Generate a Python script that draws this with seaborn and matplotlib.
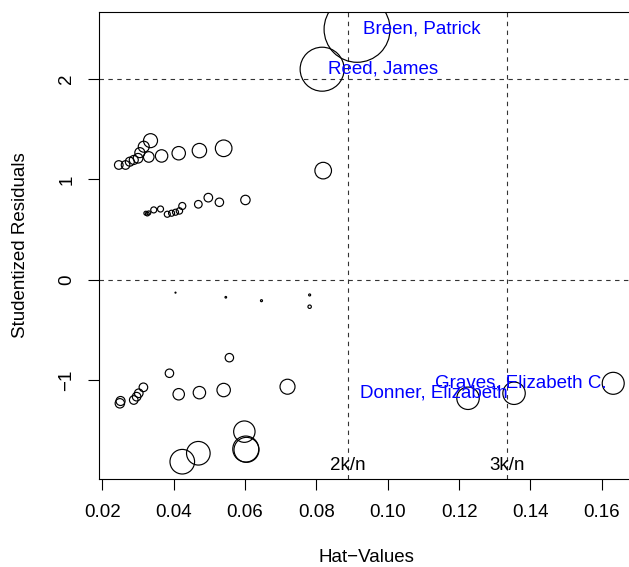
import matplotlib
matplotlib.use("Agg")
import matplotlib.pyplot as plt
import matplotlib.transforms as mtransforms
import seaborn as sns
import pandas as pd

# ---- data ----
hat = [0.0246, 0.0265, 0.0277, 0.0288, 0.0300, 0.0305, 0.0316, 0.0335, 0.0330, 0.0366,
       0.0414, 0.0472, 0.0540, 0.0819,
       0.0322, 0.0326, 0.0330, 0.0344, 0.0363, 0.0382, 0.0394, 0.0405, 0.0416, 0.0424,
       0.0469, 0.0497, 0.0528, 0.0601,
       0.0405, 0.0546, 0.0646, 0.0781, 0.0781,
       0.0249, 0.0251, 0.0288, 0.0296, 0.0302, 0.0315, 0.0388, 0.0414, 0.0472, 0.0540,
       0.0556, 0.0719, 0.0598, 0.0602, 0.0604, 0.0469, 0.0424,
       0.1225, 0.1354, 0.1632,
       0.0914, 0.0816]
rstudent = [1.144, 1.144, 1.177, 1.194, 1.211, 1.267, 1.326, 1.386, 1.224, 1.234,
            1.261, 1.287, 1.310, 1.088,
            0.664, 0.657, 0.667, 0.697, 0.706, 0.654, 0.664, 0.674, 0.687, 0.736,
            0.753, 0.819, 0.773, 0.796,
            -0.126, -0.172, -0.206, -0.149, -0.266,
            -1.227, -1.204, -1.194, -1.161, -1.127, -1.068, -0.928, -1.137, -1.121, -1.095,
            -0.773, -1.062, -1.509, -1.682, -1.690, -1.724, -1.808,
            -1.177, -1.127, -1.028,
            2.494, 2.097]
cooksd = [0.0051, 0.0051, 0.0056, 0.0056, 0.0064, 0.0069, 0.0083, 0.0135, 0.0077, 0.0106,
          0.0124, 0.0143, 0.0190, 0.0190,
          0.0011, 0.0011, 0.0011, 0.0025, 0.0025, 0.0025, 0.0025, 0.0025, 0.0028, 0.0034,
          0.0040, 0.0051, 0.0049, 0.0061,
          0.00007, 0.00018, 0.00028, 0.00028, 0.0008,
          0.0061, 0.0056, 0.0051, 0.0051, 0.0051, 0.0051, 0.0049, 0.0090, 0.0106, 0.0124,
          0.0049, 0.0155, 0.0315, 0.0466, 0.0430, 0.0384, 0.0417,
          0.0346, 0.0346, 0.0333,
          0.300, 0.1333]

label_names = ["Breen, Patrick", "Reed, James", "Donner, Elizabeth", "Graves, Elizabeth C."]
label_idx = [53, 54, 51, 52]
label_side = ["right", "right", "left", "left"]

hbar = 0.04445           # k/n
cut_labels = ["2k/n", "3k/n"]
cut_mult = [2, 3]
ref_y = [-2, 0, 2]
xticks = [0.02, 0.04, 0.06, 0.08, 0.10, 0.12, 0.14, 0.16]
xticklabels = ["0.02", "0.04", "0.06", "0.08", "0.10", "0.12", "0.14", "0.16"]
yticks = [-1, 0, 1, 2]
yticklabels = ["\u22121", "0", "1", "2"]

df = pd.DataFrame({"hat": hat, "rstudent": rstudent, "cooksd": cooksd})

sns.set_theme(style="white")
plt.rcParams['font.family'] = ['Liberation Sans', 'DejaVu Sans']

fig = plt.figure(figsize=(6.29, 5.67), dpi=100)
ax = fig.add_axes([99 / 629, (567 - 479) / 567, 534 / 629, 467 / 567])

for yv in ref_y:
    ax.axhline(yv, color="#333333", lw=0.8, ls=(0, (4, 4)), zorder=1)
for m in cut_mult:
    ax.axvline(m * hbar, color="#333333", lw=0.8, ls=(0, (4, 4)), zorder=1)

sns.scatterplot(data=df, x="hat", y="rstudent", size="cooksd",
                sizes=(0, 0.3 * 7525), size_norm=(0, 0.3),
                marker="o", facecolor="none", edgecolor="black",
                linewidth=0.85, legend=False, ax=ax, zorder=3)
for coll in ax.collections:
    coll.set_facecolor("none")
    coll.set_edgecolor("black")

# x/y limits (R style 4% extension)
xr = max(hat) - min(hat)
yr = max(rstudent) - min(rstudent)
ax.set_xlim(min(hat) - 0.04 * xr, max(hat) + 0.04 * xr)
ax.set_ylim(min(rstudent) - 0.04 * yr, max(rstudent) + 0.04 * yr)

trans = mtransforms.blended_transform_factory(ax.transData, ax.transAxes)
for m, lab in zip(cut_mult, cut_labels):
    ax.text(m * hbar, 0.0193, lab, transform=trans, ha="center", va="baseline",
            fontsize=13.5, color="black")

for name, i, side in zip(label_names, label_idx, label_side):
    off = 4.5 if side == "right" else -4.5
    ax.annotate(name, (hat[i], rstudent[i]), xytext=(off, 0), textcoords="offset points",
                ha="left" if side == "right" else "right", va="center",
                color="#0000FF", fontsize=13.5)

ax.set_xticks(xticks)
ax.set_xticklabels(xticklabels)
ax.set_yticks(yticks)
ax.set_yticklabels(yticklabels, rotation=90, va="center")
ax.tick_params(axis="both", which="major", bottom=True, left=True, direction="out",
               length=8, width=0.8, color="black", labelsize=13.5, labelcolor="black")
ax.tick_params(axis="x", pad=10)
ax.tick_params(axis="y", pad=9)

for s in ax.spines.values():
    s.set_color("black")
    s.set_linewidth(0.8)
    s.set_visible(True)

ax.set_xlabel("Hat\u2212Values", fontsize=13.5, color="black")
ax.set_ylabel("Studentized Residuals", fontsize=13.5, color="black")
ax.xaxis.set_label_coords(0.5, -(558 - 479) / 467)
ax.xaxis.label.set_va("center")
ax.yaxis.set_label_coords((21 - 99) / 534, 0.5)
ax.yaxis.label.set_va("center")

fig.savefig("out.png", dpi=100)
